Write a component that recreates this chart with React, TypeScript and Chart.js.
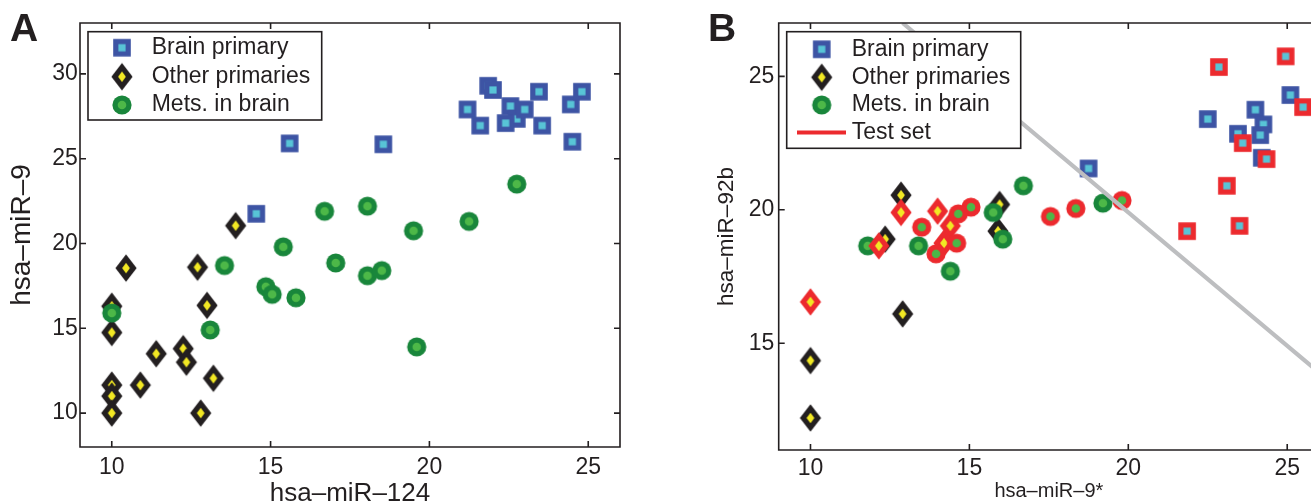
import React, { useEffect, useRef } from "react";
import { Chart, registerables } from "chart.js";

Chart.register(...registerables);

// ---------- axes ----------
const X_RANGE = [9, 26];
const X_TICKS = [10, 15, 20, 25];
const A_Y_RANGE = [8, 33];
const A_Y_TICKS = [10, 15, 20, 25, 30];
const B_Y_RANGE = [11, 27];
const B_Y_TICKS = [15, 20, 25];

// ---------- labels ----------
const LABEL_BRAIN = "Brain primary";
const LABEL_OTHER = "Other primaries";
const LABEL_METS = "Mets. in brain";
const LABEL_TEST = "Test set";
const A_X_TITLE = "hsa–miR–124";
const A_Y_TITLE = "hsa–miR–9";
const B_X_TITLE = "hsa–miR–9*";
const B_Y_TITLE = "hsa–miR–92b";

// ---------- panel A data ----------
const A_BRAIN_X = [15.6, 14.55, 18.55, 21.85, 22.0, 21.2, 21.6, 22.55, 22.75, 22.4, 23.0, 23.45, 23.55, 24.45, 24.8, 24.5];
const A_BRAIN_Y = [25.9, 21.75, 25.85, 29.3, 29.05, 27.9, 26.95, 28.1, 27.35, 27.1, 27.9, 28.95, 26.95, 28.2, 28.95, 26.0];
const A_OTHER_X = [13.9, 10.45, 12.7, 10, 10, 13.0, 11.4, 12.25, 12.35, 13.2, 10, 10, 10.9, 10, 12.8];
const A_OTHER_Y = [21.05, 18.55, 18.6, 16.3, 14.75, 16.35, 13.5, 13.8, 13.0, 12.05, 11.65, 11.0, 11.65, 10.0, 10.0];
const A_METS_X = [15.4, 16.7, 18.05, 19.5, 21.25, 22.75, 17.05, 18.05, 18.5, 15.8, 19.6, 13.55, 14.85, 15.05, 10, 13.1];
const A_METS_Y = [19.8, 21.9, 22.2, 20.75, 21.3, 23.5, 18.85, 18.1, 18.4, 16.8, 13.9, 18.7, 17.45, 17.0, 15.9, 14.9];

// ---------- panel B data ----------
const B_BRAIN_X = [18.75, 25.1, 22.5, 24.0, 24.25, 23.45, 24.15, 24.2];
const B_BRAIN_Y = [21.55, 24.3, 23.4, 23.75, 23.2, 22.85, 22.8, 21.95];
const B_BRAIN_TEST_X = [21.85, 22.85, 24.95, 25.5, 23.6, 24.35, 23.1, 23.5];
const B_BRAIN_TEST_Y = [19.2, 25.35, 25.75, 23.85, 22.5, 21.9, 20.9, 19.4];
const B_OTHER_X = [12.85, 15.95, 15.9, 12.35, 12.9, 10, 10];
const B_OTHER_Y = [20.55, 20.2, 19.2, 18.9, 16.1, 14.35, 12.2];
const B_OTHER_TEST_X = [12.85, 14.0, 14.4, 12.15, 10, 14.2];
const B_OTHER_TEST_Y = [19.9, 19.95, 19.4, 18.65, 16.55, 18.75];
const B_METS_X = [15.75, 16.05, 11.8, 13.4, 14.4, 16.7, 19.2];
const B_METS_Y = [19.9, 18.9, 18.65, 18.65, 17.7, 20.9, 20.25];
const B_METS_TEST_X = [13.5, 15.05, 14.65, 13.95, 14.6, 17.55, 18.35, 19.8];
const B_METS_TEST_Y = [19.35, 20.1, 19.85, 18.35, 18.75, 19.75, 20.05, 20.35];
const B_BOUNDARY_X = [12.9, 28.9];
const B_BOUNDARY_Y = [27, 11];

// ---------- styles ----------
const FONT = '"Liberation Sans", Arial, Helvetica, sans-serif';
const INK = "#231F20";
const BLUE = "#3D54A4";
const CYAN = "#58C4D6";
const BLACK = "#231F20";
const YELLOW = "#F2E824";
const GREEN = "#19863B";
const LIGHT_GREEN = "#4DB848";
const RED = "#EC2A2E";
const GRAY = "#BDBEC0";

type Pt = { x: number; y: number };
const zip = (xs: number[], ys: number[]): Pt[] => xs.map((x, i) => ({ x, y: ys[i] }));

function canvasOf(w: number, h: number, paint: (ctx: CanvasRenderingContext2D) => void) {
  const c = document.createElement("canvas");
  c.width = w;
  c.height = h;
  paint(c.getContext("2d") as CanvasRenderingContext2D);
  return c;
}

function squareMarker(edge: string, core: string) {
  return canvasOf(20, 20, (ctx) => {
    ctx.fillStyle = edge;
    ctx.fillRect(1.2, 1.2, 17.6, 17.6);
    ctx.fillStyle = core;
    ctx.fillRect(6.4, 6.4, 7.2, 7.2);
  });
}

function diamondMarker(edge: string, core: string) {
  return canvasOf(24, 30, (ctx) => {
    const cx = 12, cy = 15;
    const dia = (hw: number, hh: number, color: string) => {
      ctx.beginPath();
      ctx.moveTo(cx, cy - hh);
      ctx.lineTo(cx + hw, cy);
      ctx.lineTo(cx, cy + hh);
      ctx.lineTo(cx - hw, cy);
      ctx.closePath();
      ctx.fillStyle = color;
      ctx.fill();
    };
    dia(10.6, 13.8, edge);
    dia(3.9, 5.3, core);
  });
}

function circleMarker(edge: string, core: string) {
  return canvasOf(22, 22, (ctx) => {
    ctx.beginPath();
    ctx.arc(11, 11, 9.6, 0, Math.PI * 2);
    ctx.fillStyle = edge;
    ctx.fill();
    ctx.beginPath();
    ctx.arc(11, 11, 4.3, 0, Math.PI * 2);
    ctx.fillStyle = core;
    ctx.fill();
  });
}

const framePlugin = {
  id: "matlabFrame",
  afterDatasetsDraw(chart: any) {
    const { ctx, chartArea } = chart;
    const { left, right, top, bottom } = chartArea;
    const xs = chart.scales.x;
    const ys = chart.scales.y;
    const tl = 6;
    ctx.save();
    ctx.strokeStyle = INK;
    ctx.lineWidth = 1.6;
    ctx.beginPath();
    ctx.rect(left, top, right - left, bottom - top);
    xs.ticks.forEach((t: any) => {
      const px = xs.getPixelForValue(t.value);
      ctx.moveTo(px, bottom);
      ctx.lineTo(px, bottom - tl);
      ctx.moveTo(px, top);
      ctx.lineTo(px, top + tl);
    });
    ys.ticks.forEach((t: any) => {
      const py = ys.getPixelForValue(t.value);
      ctx.moveTo(left, py);
      ctx.lineTo(left + tl, py);
      ctx.moveTo(right, py);
      ctx.lineTo(right - tl, py);
    });
    ctx.stroke();
    ctx.restore();
  },
};

type LegendRow = { label: string; y: number; marker?: HTMLCanvasElement; line?: { x0: number; x1: number; color: string; width: number } };

function makeLegend(cfg: { box: number[]; markerX: number; textX: number; rows: LegendRow[] }) {
  return {
    id: "boxLegend",
    afterDraw(chart: any) {
      const ctx = chart.ctx as CanvasRenderingContext2D;
      const [x0, y0, x1, y1] = cfg.box;
      ctx.save();
      ctx.fillStyle = "#ffffff";
      ctx.fillRect(x0, y0, x1 - x0, y1 - y0);
      ctx.strokeStyle = INK;
      ctx.lineWidth = 1.6;
      ctx.strokeRect(x0, y0, x1 - x0, y1 - y0);
      ctx.font = `23px ${FONT}`;
      ctx.fillStyle = INK;
      ctx.textBaseline = "middle";
      ctx.textAlign = "left";
      for (const r of cfg.rows) {
        if (r.marker) {
          ctx.drawImage(r.marker, cfg.markerX - r.marker.width / 2, r.y - r.marker.height / 2);
        }
        if (r.line) {
          ctx.beginPath();
          ctx.strokeStyle = r.line.color;
          ctx.lineWidth = r.line.width;
          ctx.moveTo(r.line.x0, r.y);
          ctx.lineTo(r.line.x1, r.y);
          ctx.stroke();
        }
        ctx.fillStyle = INK;
        ctx.fillText(r.label, cfg.textX, r.y);
      }
      ctx.restore();
    },
  };
}

function linearAxis(o: {
  axis: "x" | "y";
  range: number[];
  ticks: number[];
  title: string;
  titleSize: number;
  fit: number;
  tickPad: number;
  titlePad: any;
}) {
  return {
    type: "linear",
    min: o.range[0],
    max: o.range[1],
    afterBuildTicks: (s: any) => {
      s.ticks = o.ticks.map((v) => ({ value: v }));
    },
    afterFit: (s: any) => {
      if (o.axis === "x") s.height = o.fit;
      else s.width = o.fit;
    },
    grid: { display: false, drawTicks: false },
    border: { display: false },
    ticks: { padding: o.tickPad, color: INK, autoSkip: false, maxRotation: 0, font: { family: FONT, size: 23 } },
    title: { display: true, text: o.title, color: INK, padding: o.titlePad, font: { family: FONT, size: o.titleSize } },
  };
}

function scatterSet(label: string, xs: number[], ys: number[], style: HTMLCanvasElement, order: number) {
  return {
    label,
    data: zip(xs, ys),
    pointStyle: style,
    pointRadius: 10,
    pointHoverRadius: 10,
    pointBorderWidth: 0,
    showLine: false,
    order,
  };
}

function configA(): any {
  const sq = squareMarker(BLUE, CYAN);
  const di = diamondMarker(BLACK, YELLOW);
  const ci = circleMarker(GREEN, LIGHT_GREEN);
  return {
    type: "scatter",
    data: {
      datasets: [
        scatterSet(LABEL_BRAIN, A_BRAIN_X, A_BRAIN_Y, sq, 3),
        scatterSet(LABEL_OTHER, A_OTHER_X, A_OTHER_Y, di, 5),
        scatterSet(LABEL_METS, A_METS_X, A_METS_Y, ci, 4),
      ],
    },
    options: {
      animation: false,
      responsive: false,
      events: [],
      layout: { padding: { left: 0, top: 23, right: 30, bottom: 0 } },
      plugins: { legend: { display: false }, tooltip: { enabled: false } },
      scales: {
        x: linearAxis({ axis: "x", range: X_RANGE, ticks: X_TICKS, title: A_X_TITLE, titleSize: 26, fit: 54, tickPad: 7.2, titlePad: { top: 0, bottom: -8.5 } }),
        y: linearAxis({ axis: "y", range: A_Y_RANGE, ticks: A_Y_TICKS, title: A_Y_TITLE, titleSize: 28, fit: 80, tickPad: 2.2, titlePad: { top: 5.7, bottom: 0 } }),
      },
    },
    plugins: [
      framePlugin,
      makeLegend({
        box: [88, 31.7, 321.7, 120],
        markerX: 122,
        textX: 151.7,
        rows: [
          { label: LABEL_BRAIN, y: 47.7, marker: sq },
          { label: LABEL_OTHER, y: 76.7, marker: di },
          { label: LABEL_METS, y: 105, marker: ci },
        ],
      }),
    ],
  };
}

function configB(): any {
  const sq = squareMarker(BLUE, CYAN);
  const di = diamondMarker(BLACK, YELLOW);
  const ci = circleMarker(GREEN, LIGHT_GREEN);
  const sqT = squareMarker(RED, CYAN);
  const diT = diamondMarker(RED, YELLOW);
  const ciT = circleMarker(RED, LIGHT_GREEN);
  return {
    type: "scatter",
    data: {
      datasets: [
        scatterSet(LABEL_BRAIN, B_BRAIN_X, B_BRAIN_Y, sq, 5),
        scatterSet(LABEL_OTHER, B_OTHER_X, B_OTHER_Y, di, 7),
        scatterSet(LABEL_METS, B_METS_X, B_METS_Y, ci, 6),
        scatterSet(LABEL_TEST + " – " + LABEL_BRAIN, B_BRAIN_TEST_X, B_BRAIN_TEST_Y, sqT, 4),
        scatterSet(LABEL_TEST + " – " + LABEL_OTHER, B_OTHER_TEST_X, B_OTHER_TEST_Y, diT, 3),
        scatterSet(LABEL_TEST + " – " + LABEL_METS, B_METS_TEST_X, B_METS_TEST_Y, ciT, 2),
        {
          label: "boundary",
          data: zip(B_BOUNDARY_X, B_BOUNDARY_Y),
          showLine: true,
          borderColor: GRAY,
          borderWidth: 4.2,
          pointRadius: 0,
          fill: false,
          order: 0,
        },
      ],
    },
    options: {
      animation: false,
      responsive: false,
      events: [],
      layout: { padding: { left: 0, top: 23, right: 31, bottom: 0 } },
      plugins: { legend: { display: false }, tooltip: { enabled: false } },
      scales: {
        x: linearAxis({ axis: "x", range: X_RANGE, ticks: X_TICKS, title: B_X_TITLE, titleSize: 20, fit: 51, tickPad: 4.9, titlePad: { top: 0, bottom: -2.7 } }),
        y: linearAxis({ axis: "y", range: B_Y_RANGE, ticks: B_Y_TICKS, title: B_Y_TITLE, titleSize: 22.5, fit: 78.7, tickPad: 4.3, titlePad: { top: 13.2, bottom: 0 } }),
      },
    },
    plugins: [
      framePlugin,
      makeLegend({
        box: [86.7, 31.7, 320.7, 148.3],
        markerX: 121.7,
        textX: 151.7,
        rows: [
          { label: LABEL_BRAIN, y: 49.3, marker: sq },
          { label: LABEL_OTHER, y: 77.3, marker: di },
          { label: LABEL_METS, y: 105, marker: ci },
          { label: LABEL_TEST, y: 132.5, line: { x0: 97, x1: 146, color: RED, width: 4.2 } },
        ],
      }),
    ],
  };
}

const letterStyle = (left: number): React.CSSProperties => ({
  position: "absolute",
  left,
  top: 8.2,
  margin: 0,
  fontFamily: FONT,
  fontWeight: "bold",
  fontSize: 39,
  lineHeight: "39px",
  color: INK,
});

export default function App() {
  const refA = useRef<HTMLCanvasElement>(null);
  const refB = useRef<HTMLCanvasElement>(null);

  useEffect(() => {
    const charts = [new Chart(refA.current as HTMLCanvasElement, configA()), new Chart(refB.current as HTMLCanvasElement, configB())];
    return () => charts.forEach((c) => c.destroy());
  }, []);

  return (
    <div style={{ position: "fixed", left: 0, top: 0, width: 1311, height: 501, overflow: "hidden", background: "#ffffff" }}>
      <canvas ref={refA} width={650} height={501} style={{ position: "absolute", left: 0, top: 0 }} />
      <canvas ref={refB} width={650} height={501} style={{ position: "absolute", left: 700, top: 0 }} />
      <div style={letterStyle(10)}>A</div>
      <div style={letterStyle(708)}>B</div>
    </div>
  );
}
